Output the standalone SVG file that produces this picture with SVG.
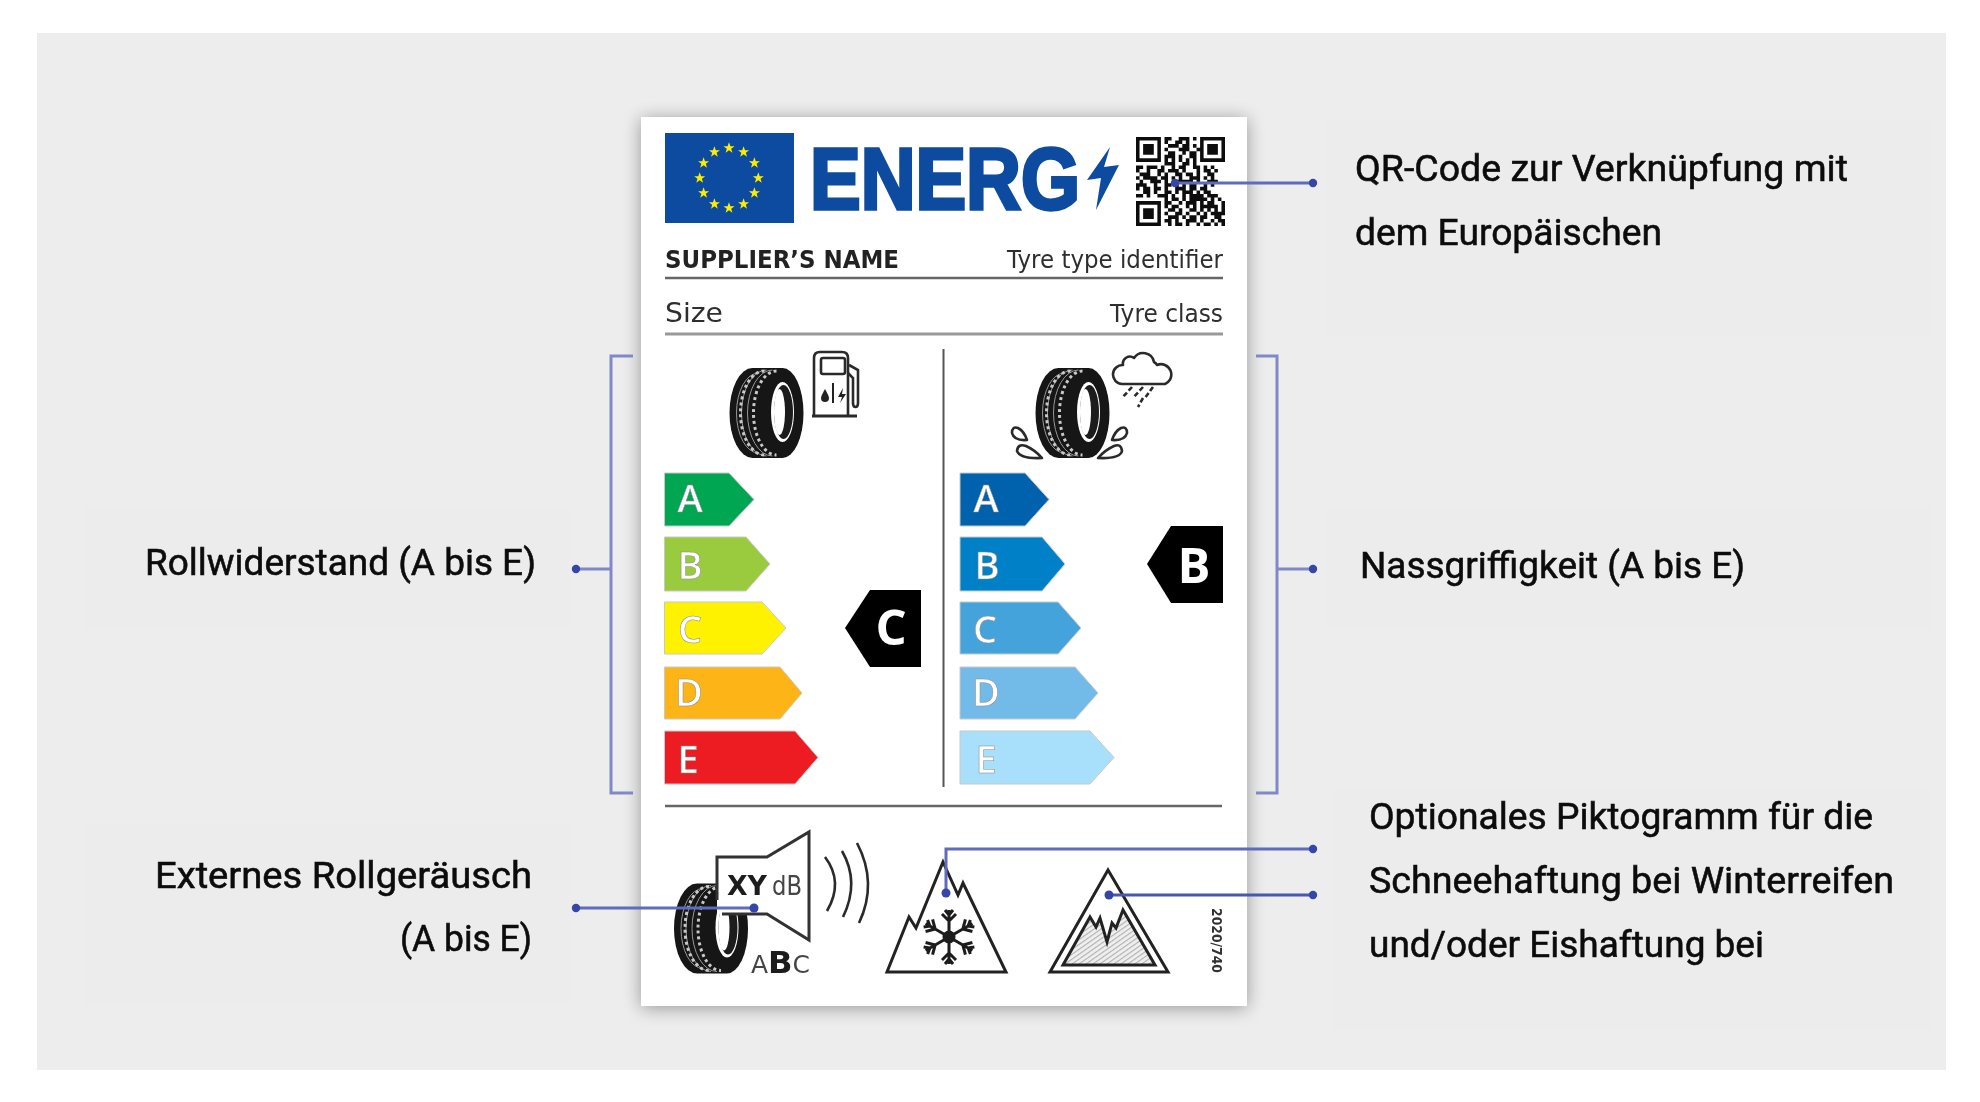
<svg xmlns="http://www.w3.org/2000/svg" width="1980" height="1102" viewBox="0 0 1980 1102">
<style>
.lbl{font-family:"Roboto","Liberation Sans",sans-serif;font-size:36px;fill:#0c0c0c;stroke:#0c0c0c;stroke-width:.55}
.cardt{font-family:"DejaVu Sans","Liberation Sans",sans-serif;fill:#2e2e2e}
.barl{font-family:"Open Sans","Liberation Sans",sans-serif;font-size:38px;font-weight:600;fill:#fff;stroke:#8a8a8a;stroke-width:.5;text-anchor:middle}
.rate{font-family:"Open Sans","Liberation Sans",sans-serif;font-size:49px;font-weight:700;fill:#fff;text-anchor:middle}
.ln{fill:none;stroke:#222;stroke-width:3;stroke-linejoin:miter}
.pic{fill:#fff;stroke:#2a2a2a;stroke-width:2.6;stroke-linejoin:round}
.con{fill:none;stroke:#5f6bbb;stroke-width:3}
.brk{fill:none;stroke:#7f89c6;stroke-width:3}
.dot{fill:#3546a8}
.rule{stroke:#666;stroke-width:2.6}
.bar{stroke:#c8c8c8;stroke-width:1}
.panel{fill:#ececec}
</style>
<defs>
<filter id="soft" x="-5%" y="-5%" width="110%" height="110%"><feGaussianBlur stdDeviation="0.75"/></filter>
<filter id="shadow" x="-10%" y="-10%" width="120%" height="120%"><feGaussianBlur stdDeviation="9"/></filter>
<clipPath id="qrclip"><rect width="25" height="25"/></clipPath>
<polygon id="star" points="0,-5.8 1.4,-1.8 5.5,-1.8 2.2,.7 3.4,4.7 0,2.3 -3.4,4.7 -2.2,.7 -5.5,-1.8 -1.4,-1.8" fill="#ffed00"/>
<pattern id="hatch" width="4" height="4" patternUnits="userSpaceOnUse" patternTransform="rotate(55)"><rect width="4" height="4" fill="#efefef"/><rect width="1.1" height="4" fill="#b0b0b0"/></pattern>
<g id="tyre">
<path d="M-14-45L16-45A21 45 0 0 1 16 45L-14 45A23 45 0 0 1-14-45Z" fill="#141414"/>
<g fill="none">
<path d="M0-43A25 43 0 0 0 0 43M6-43A25 43 0 0 0 6 43M-8-40A22 40 0 0 0-8 40" stroke="#999" stroke-width="1"/>
<path d="M-2-42A24 42 0 0 0-2 42M10-42A23 42 0 0 0 10 42" stroke="#c8c8c8" stroke-width="3" stroke-dasharray="3 3"/>
</g>
<ellipse cx="16" cy="-1" rx="11.5" ry="30" fill="#fff"/>
<ellipse cx="17" cy="-1" rx="9.5" ry="27" fill="#1a1a1a"/>
<ellipse cx="13" cy="-1" rx="5.5" ry="23" fill="#fff"/>
</g>
<g id="arm"><path d="M0 0V-27M0-16L-7-23M0-16L7-23M0-22L-4-27M0-22L4-27" fill="none" stroke="#1c1c1c" stroke-width="3"/></g>
</defs>

<g id="background">
<rect x="37" y="33" width="1909" height="1037" fill="#ededed"/>
<rect class="panel" x="84" y="508" width="485" height="120"/>
<rect class="panel" x="84" y="823" width="485" height="181"/>
<rect class="panel" x="1326" y="120" width="606" height="215"/>
<rect class="panel" x="1326" y="508" width="606" height="120"/>
<rect class="panel" x="1332" y="790" width="598" height="240"/>
</g>

<g id="label-card">
<rect x="641" y="119" width="606" height="889" fill="#000" opacity=".36" filter="url(#shadow)"/>
<rect x="641" y="117" width="606" height="889" fill="#fff"/>
</g>

<g id="card-content" filter="url(#soft)">
<g id="eu-flag">
<rect x="665" y="133" width="129" height="90" fill="#0f4ca0"/>
<use href="#star" x="729" y="148"/><use href="#star" x="743.6" y="152"/><use href="#star" x="754.4" y="163"/><use href="#star" x="758.3" y="178"/><use href="#star" x="754.4" y="193"/><use href="#star" x="743.6" y="204"/><use href="#star" x="729" y="208"/><use href="#star" x="714.4" y="204"/><use href="#star" x="703.6" y="193"/><use href="#star" x="699.7" y="178"/><use href="#star" x="703.6" y="163"/><use href="#star" x="714.4" y="152"/>
</g>
<g id="energy-title">
<text x="810" y="209" font-family="Liberation Sans, sans-serif" font-weight="700" font-size="87" fill="#0f4ca0" stroke="#0f4ca0" stroke-width="3.5" textLength="270" lengthAdjust="spacingAndGlyphs">ENERG</text>
<polygon points="1110,147 1087,180 1101,178 1096,210 1119,165 1104,167" fill="#0f4ca0"/>
</g>
<g id="qr-code" transform="translate(1136 137) scale(3.56)">
<path clip-path="url(#qrclip)" fill="none" stroke="#111" stroke-width="1" d="M0 .5h7m1 0h2m2 0h3m1 0h1m1 0h7
M0 1.5h1m5 0h1m1 0h1m2 0h2m1 0h1m3 0h1m5 0h1
M0 2.5h1m1 0h3m1 0h1m2 0h3m1 0h2m1 0h1m1 0h1m1 0h3m1 0h1
M0 3.5h1m1 0h3m1 0h1m1 0h1m3 0h3m2 0h1h1m1 0h3m1 0h1
M0 4.5h1m1 0h3m1 0h1m2 0h2m2 0h1m1 0h2m1 0h1m1 0h3m1 0h1
M0 5.5h1m5 0h1m1 0h3m1 0h1m2 0h2m1 0h1m5 0h1
M0 6.5h7m1 0h1m1 0h1m1 0h1m1 0h1m1 0h1m1 0h7
M8 7.5h3m2 0h2m1 0h1
M0 8.5h2m1 0h3m1 0h1m2 0h1m1 0h2m2 0h2m1 0h1m1 0h1
M0 9.5h1m2 0h1m2 0h2m1 0h3m1 0h1m3 0h1m1 0h2m1 0h1
M1 10.5h3m2 0h1m1 0h1m2 0h2m1 0h2m1 0h1m2 0h2
M0 11.5h1m1 0h4m1 0h2m1 0h1m1 0h1m2 0h3m1 0h1m1 0h1
M1 12.5h1m2 0h3m1 0h1m2 0h5m1 0h1m2 0h3
M0 13.5h3m2 0h1m2 0h2m1 0h1m1 0h1m1 0h2m2 0h1m1 0h1
M0 14.5h1m1 0h2m1 0h2m1 0h1m2 0h3m1 0h2m1 0h2
M2 15.5h2m1 0h1m2 0h2m1 0h1m1 0h3m1 0h1m1 0h2
M0 16.5h2m1 0h1m2 0h3m1 0h1m2 0h1m1 0h4m1 0h3
M8 17.5h1m1 0h2m1 0h1m1 0h5m1 0h1m1 0h1
M0 18.5h7m1 0h2m2 0h1m1 0h3m1 0h1m1 0h2m2 0h1
M0 19.5h1m5 0h1m1 0h1m1 0h2m2 0h1m1 0h1m1 0h5m1 0h1
M0 20.5h1m1 0h3m1 0h1m2 0h2m1 0h1m2 0h2m1 0h1m1 0h1m1 0h1m1 0h2
M0 21.5h1m1 0h3m1 0h1m1 0h1m2 0h2m1 0h1m2 0h1m1 0h1m1 0h5
M0 22.5h1m1 0h3m1 0h1m2 0h3m1 0h1m1 0h2m1 0h2m2 0h2m1 0h1
M0 23.5h1m5 0h1m1 0h2m1 0h1m2 0h3m1 0h1m2 0h1m1 0h2
M0 24.5h7m2 0h1m1 0h2m1 0h1m2 0h1m1 0h2m1 0h1m1 0h1"/>
</g>
<g id="supplier-row">
<text class="cardt" x="665" y="268" font-size="24" font-weight="700" textLength="234" lengthAdjust="spacingAndGlyphs" style="fill:#222">SUPPLIER’S NAME</text>
<text class="cardt" x="1007" y="268" font-size="25" textLength="216" lengthAdjust="spacingAndGlyphs">Tyre type identifier</text>
<line class="rule" x1="665" y1="278" x2="1223" y2="278"/>
</g>
<g id="size-row">
<text class="cardt" x="665" y="322" font-size="27" textLength="58" lengthAdjust="spacingAndGlyphs">Size</text>
<text class="cardt" x="1110" y="322" font-size="25" textLength="113" lengthAdjust="spacingAndGlyphs">Tyre class</text>
<line x1="665" y1="334" x2="1223" y2="334" stroke="#999" stroke-width="3"/>
</g>
<line id="divider" x1="943.5" y1="349" x2="943.5" y2="787" stroke="#555" stroke-width="2"/>

<g id="fuel-icon">
<use href="#tyre" x="766.5" y="413"/>
<path class="pic" d="M814 416V358Q814 352 820 352H842Q848 352 848 358V416"/>
<rect class="pic" x="821" y="358" width="24" height="16" rx="2"/>
<path d="M812 416H857" stroke="#2a2a2a" stroke-width="3"/>
<path d="M849 365L858 370V403Q858 407 855.5 407Q853 407 853 403V378L848 373" fill="none" stroke="#2a2a2a" stroke-width="2.6"/>
<path d="M825 389Q821 396 821 398A4 4 0 0 0 829 398Q829 396 825 389Z" fill="#222"/>
<path d="M833 383V403" stroke="#222" stroke-width="2"/>
<path d="M843 388L838 397H842L840 403L846 394H842Z" fill="#222"/>
</g>
<g id="wet-icon">
<use href="#tyre" x="1072.5" y="413"/>
<path class="pic" d="M1122 384A9.5 9.5 0 0 1 1123 365A7 7 0 0 1 1134 358A11 11 0 0 1 1154 362A7 7 0 0 1 1157 365A9.5 9.5 0 0 1 1165 384Z"/>
<path d="M1132 387L1122 398M1143 387L1133 398M1153 387L1145 398M1143 398L1138 407" stroke="#2a2a2a" stroke-width="2.6" stroke-dasharray="5 2.5" fill="none"/>
<path class="pic" d="M1027 440Q1014 441 1012 433Q1012 426 1018 428Q1024 431 1027 440Z"/>
<path class="pic" d="M1042 458Q1020 459 1017 451Q1018 443 1026 446Q1035 450 1042 458Z"/>
<path class="pic" d="M1112 440Q1125 441 1127 433Q1127 426 1121 428Q1115 431 1112 440Z"/>
<path class="pic" d="M1098 458Q1120 459 1122 451Q1121 443 1114 446Q1105 450 1098 458Z"/>
</g>

<g id="scale-left">
<polygon class="bar" points="664.5,473 729,473 754,499.5 729,526 664.5,526" fill="#00a651"/>
<polygon class="bar" points="664.5,537 746,537 770,564 746,591 664.5,591" fill="#9aca3c"/>
<polygon class="bar" points="664.5,602 762,602 786,628 762,654 664.5,654" fill="#fff200"/>
<polygon class="bar" points="664.5,667 780,667 802,693 780,719 664.5,719" fill="#fdb415"/>
<polygon class="bar" points="664.5,731 795,731 818,757.5 795,784 664.5,784" fill="#ed1c24"/>
<text class="barl" x="690" y="512">A</text>
<text class="barl" x="690" y="579">B</text>
<text class="barl" x="690" y="643">C</text>
<text class="barl" x="689" y="706">D</text>
<text class="barl" x="688" y="773">E</text>
</g>
<g id="rating-c">
<polygon points="845,628 870,590 921,590 921,667 870,667" fill="#000"/>
<text class="rate" x="891" y="645">C</text>
</g>
<g id="scale-right">
<polygon class="bar" points="960,473 1025,473 1049,499.5 1025,526 960,526" fill="#0062ad"/>
<polygon class="bar" points="960,537 1042,537 1065,564 1042,591 960,591" fill="#0080c6"/>
<polygon class="bar" points="960,602 1058,602 1081,628 1058,654 960,654" fill="#45a3dc"/>
<polygon class="bar" points="960,667 1075,667 1098,693 1075,719 960,719" fill="#72bbe9"/>
<polygon class="bar" points="960,731 1090,731 1114,757.5 1090,784 960,784" fill="#a8dffa"/>
<text class="barl" x="986" y="512">A</text>
<text class="barl" x="987" y="579">B</text>
<text class="barl" x="985" y="643">C</text>
<text class="barl" x="986" y="706">D</text>
<text class="barl" x="986" y="773">E</text>
</g>
<g id="rating-b">
<polygon points="1147,564 1171,526 1223,526 1223,603 1171,603" fill="#000"/>
<text class="rate" x="1194" y="583">B</text>
</g>
<line class="rule" x1="665" y1="806" x2="1222" y2="806"/>

<g id="noise-icon">
<use href="#tyre" x="711" y="928.5"/>
<polygon points="717,857 767,857 809,832 809,940 767,914 717,914" fill="#fff"/>
<path d="M717 900V857H767L809 832V940L767 914H722" fill="none" stroke="#333" stroke-width="3"/>
<text x="727" y="895" font-family="DejaVu Sans, sans-serif" font-weight="700" font-size="27" fill="#1c1c1c" textLength="40" lengthAdjust="spacingAndGlyphs">XY</text>
<text x="772" y="895" font-family="DejaVu Sans, sans-serif" font-size="26" fill="#444" textLength="30" lengthAdjust="spacingAndGlyphs">dB</text>
<text x="751" y="973" font-family="DejaVu Sans, sans-serif" font-size="24" fill="#444" textLength="59" lengthAdjust="spacingAndGlyphs">A<tspan font-weight="700" font-size="31" fill="#1c1c1c">B</tspan>C</text>
<path d="M825 857Q844 882 827 911M842 851Q860 882 843 917M857 843Q878 883 859 923" fill="none" stroke="#2a2a2a" stroke-width="2.6"/>
</g>
<g id="snow-icon">
<path class="ln" d="M887 972H1006L963 883L958 895L943 862L916 928L909 917Z" fill="#fff"/>
<g transform="translate(949 937)">
<circle r="6.5" fill="#1c1c1c"/>
<use href="#arm" transform="rotate(0)"/><use href="#arm" transform="rotate(60)"/><use href="#arm" transform="rotate(120)"/><use href="#arm" transform="rotate(180)"/><use href="#arm" transform="rotate(240)"/><use href="#arm" transform="rotate(300)"/>
</g>
</g>
<g id="ice-icon">
<path class="ln" d="M1108 870L1050 972H1168Z"/>
<path d="M1063 965H1155L1123 910L1116 928L1112 923L1107 942L1100 918L1096 927L1090 917Z" fill="url(#hatch)" stroke="#222" stroke-width="3"/>
</g>
<text id="regulation" x="1212" y="908" transform="rotate(90 1212 908)" font-family="DejaVu Sans, sans-serif" font-weight="700" font-size="14" fill="#333" textLength="65" lengthAdjust="spacingAndGlyphs">2020/740</text>
</g>

<g id="connectors">
<path class="brk" d="M633 356H611V793H633"/>
<path class="brk" d="M1256 356H1277V793H1256"/>
<path class="brk" d="M576 569H611"/>
<path class="brk" d="M1277 569H1313"/>
<path class="con" d="M1175 183H1313"/>
<path class="con" d="M576 908H754"/>
<path class="con" d="M1313 849H946V893"/>
<path class="con" d="M1109 895H1313" style="stroke:#4a57b0"/>
<circle class="dot" cx="576" cy="569" r="4.2"/>
<circle class="dot" cx="1313" cy="569" r="4.2"/>
<circle class="dot" cx="1175" cy="183" r="4.2"/>
<circle class="dot" cx="1313" cy="183" r="4.2"/>
<circle class="dot" cx="576" cy="908" r="4.2"/>
<circle class="dot" cx="754" cy="908" r="4.5"/>
<circle class="dot" cx="1313" cy="849" r="4.2"/>
<circle class="dot" cx="946" cy="893" r="4.5"/>
<circle class="dot" cx="1313" cy="895" r="4.2"/>
<circle class="dot" cx="1109" cy="895" r="4.5"/>
</g>

<g id="label-rollwiderstand"><text class="lbl" x="145" y="575" textLength="391" lengthAdjust="spacingAndGlyphs">Rollwiderstand (A bis E)</text></g>
<g id="label-rollgeraeusch">
<text class="lbl" x="155" y="888" textLength="377" lengthAdjust="spacingAndGlyphs">Externes Rollgeräusch</text>
<text class="lbl" x="400" y="951" textLength="132" lengthAdjust="spacingAndGlyphs">(A bis E)</text>
</g>
<g id="label-qr">
<text class="lbl" x="1355" y="181" textLength="493" lengthAdjust="spacingAndGlyphs">QR-Code zur Verknüpfung mit</text>
<text class="lbl" x="1355" y="245" textLength="307" lengthAdjust="spacingAndGlyphs">dem Europäischen</text>
</g>
<g id="label-nassgriffigkeit"><text class="lbl" x="1360" y="578" textLength="385" lengthAdjust="spacingAndGlyphs">Nassgriffigkeit (A bis E)</text></g>
<g id="label-piktogramm">
<text class="lbl" x="1369" y="829" textLength="504" lengthAdjust="spacingAndGlyphs">Optionales Piktogramm für die</text>
<text class="lbl" x="1369" y="893" textLength="525" lengthAdjust="spacingAndGlyphs">Schneehaftung bei Winterreifen</text>
<text class="lbl" x="1369" y="957" textLength="395" lengthAdjust="spacingAndGlyphs">und/oder Eishaftung bei</text>
</g>
</svg>
